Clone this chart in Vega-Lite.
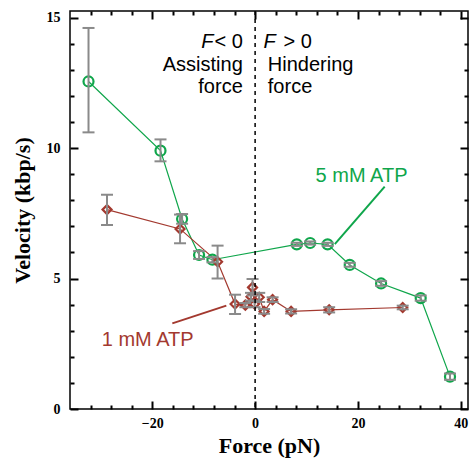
{
  "$schema": "https://vega.github.io/schema/vega-lite/v6.json",
  "width": 398,
  "height": 398,
  "autosize": {"type": "none"},
  "padding": {"left": 70, "top": 11, "right": 1, "bottom": 50},
  "background": "white",
  "config": {
    "view": {"stroke": "black", "strokeWidth": 1.5},
    "axis": {
      "domain": false, "grid": false, "ticks": true, "zindex": 1,
      "labelFont": "Liberation Serif", "labelFontWeight": "bold", "labelFontSize": 14, "labelColor": "black",
      "tickColor": "black", "tickWidth": 2, "tickOpacity": 1,
      "titleFont": "Liberation Serif", "titleFontWeight": "bold", "titleFontSize": 22, "titleColor": "black"
    }
  },
  "data": {"values": [
      {"series": "5 mM ATP", "force": -32.4, "vel": 12.55, "lo": 10.6, "hi": 14.6},
      {"series": "5 mM ATP", "force": -18.4, "vel": 9.9, "lo": 9.49, "hi": 10.33},
      {"series": "5 mM ATP", "force": -14.2, "vel": 7.28, "lo": 7.1, "hi": 7.47},
      {"series": "5 mM ATP", "force": -10.9, "vel": 5.9, "lo": 5.75, "hi": 6.05},
      {"series": "5 mM ATP", "force": -8.3, "vel": 5.72, "lo": 5.62, "hi": 5.82},
      {"series": "5 mM ATP", "force": 8.1, "vel": 6.31, "lo": 6.25, "hi": 6.37},
      {"series": "5 mM ATP", "force": 10.7, "vel": 6.36, "lo": 6.3, "hi": 6.42},
      {"series": "5 mM ATP", "force": 14.1, "vel": 6.31, "lo": 6.25, "hi": 6.37},
      {"series": "5 mM ATP", "force": 18.4, "vel": 5.52, "lo": 5.45, "hi": 5.6},
      {"series": "5 mM ATP", "force": 24.5, "vel": 4.81, "lo": 4.72, "hi": 4.9},
      {"series": "5 mM ATP", "force": 32.2, "vel": 4.25, "lo": 4.15, "hi": 4.35},
      {"series": "5 mM ATP", "force": 37.9, "vel": 1.24, "lo": 1.12, "hi": 1.36},
      {"series": "1 mM ATP", "force": -28.8, "vel": 7.64, "lo": 7.05, "hi": 8.21},
      {"series": "1 mM ATP", "force": -14.6, "vel": 6.9, "lo": 6.35, "hi": 7.45},
      {"series": "1 mM ATP", "force": -7.3, "vel": 5.64, "lo": 5.0, "hi": 6.26},
      {"series": "1 mM ATP", "force": -3.9, "vel": 4.02, "lo": 3.64, "hi": 4.38},
      {"series": "1 mM ATP", "force": -1.9, "vel": 3.98, "lo": 3.9, "hi": 4.06},
      {"series": "1 mM ATP", "force": -0.8, "vel": 4.3, "lo": 4.15, "hi": 4.45},
      {"series": "1 mM ATP", "force": -0.5, "vel": 4.66, "lo": 4.35, "hi": 4.98},
      {"series": "1 mM ATP", "force": -0.1, "vel": 4.02, "lo": 3.9, "hi": 4.15},
      {"series": "1 mM ATP", "force": 0.8, "vel": 4.28, "lo": 4.1, "hi": 4.45},
      {"series": "1 mM ATP", "force": 1.75, "vel": 3.74, "lo": 3.65, "hi": 3.83},
      {"series": "1 mM ATP", "force": 3.4, "vel": 4.19, "lo": 4.1, "hi": 4.28},
      {"series": "1 mM ATP", "force": 7.0, "vel": 3.74, "lo": 3.66, "hi": 3.82},
      {"series": "1 mM ATP", "force": 14.4, "vel": 3.8, "lo": 3.7, "hi": 3.9},
      {"series": "1 mM ATP", "force": 28.7, "vel": 3.89, "lo": 3.82, "hi": 3.96}
  ]},
  "layer": [
    {
      "mark": {"type": "line", "strokeWidth": 1.2},
      "encoding": {
        "x": {"field": "force", "type": "quantitative",
          "scale": {"domain": [-36, 41.4], "nice": false, "zero": false},
          "axis": {"orient": "bottom", "values": [-20, 0, 20, 40], "offset": -8, "tickSize": 8, "labelPadding": 7,
            "title": "Force (pN)", "titlePadding": 5}},
        "y": {"field": "vel", "type": "quantitative",
          "scale": {"domain": [0, 15.25], "nice": false, "zero": false},
          "axis": {"orient": "left", "values": [0, 5, 10, 15], "offset": -8, "tickSize": 8, "labelPadding": 10,
            "title": "Velocity (kbp/s)", "titlePadding": 12}},
        "color": {"field": "series", "type": "nominal", "legend": null,
          "scale": {"domain": ["5 mM ATP", "1 mM ATP"], "range": ["#0fa64b", "#a3392f"]}},
        "order": {"field": "force", "type": "quantitative"}
      }
    },
    {
      "transform": [{"filter": "datum.series === '5 mM ATP'"}],
      "mark": {"type": "point", "shape": "circle", "filled": false, "strokeWidth": 2.2, "size": 100, "opacity": 1},
      "encoding": {
        "x": {"field": "force", "type": "quantitative", "scale": {"domain": [-36, 41.4], "nice": false, "zero": false},
          "axis": {"orient": "bottom", "values": [-32,-28,-24,-16,-12,-8,-4,4,8,12,16,24,28,32,36], "labels": false, "title": null, "offset": -4, "tickSize": 4}},
        "y": {"field": "vel", "type": "quantitative", "scale": {"domain": [0, 15.25], "nice": false, "zero": false},
          "axis": {"orient": "left", "values": [1,2,3,4,6,7,8,9,11,12,13,14], "labels": false, "title": null, "offset": -4, "tickSize": 4}},
        "color": {"field": "series", "type": "nominal", "legend": null}
      }
    },
    {
      "transform": [{"filter": "datum.series === '1 mM ATP'"}],
      "mark": {"type": "point", "shape": "diamond", "filled": false, "strokeWidth": 2.2, "size": 80, "opacity": 1},
      "encoding": {
        "x": {"field": "force", "type": "quantitative", "scale": {"domain": [-36, 41.4], "nice": false, "zero": false},
          "axis": {"orient": "top", "values": [-32,-28,-24,-16,-12,-8,-4,4,8,12,16,24,28,32,36], "labels": false, "title": null, "offset": -4, "tickSize": 4}},
        "y": {"field": "vel", "type": "quantitative", "scale": {"domain": [0, 15.25], "nice": false, "zero": false},
          "axis": {"orient": "right", "values": [1,2,3,4,6,7,8,9,11,12,13,14], "labels": false, "title": null, "offset": -4, "tickSize": 4}},
        "color": {"field": "series", "type": "nominal", "legend": null}
      }
    },
    {
      "mark": {"type": "rule", "color": "#8a8a8a", "strokeWidth": 2},
      "encoding": {
        "x": {"field": "force", "type": "quantitative", "scale": {"domain": [-36, 41.4], "nice": false, "zero": false},
          "axis": {"orient": "top", "values": [-20, 0, 20, 40], "labels": false, "title": null, "offset": -8, "tickSize": 8}},
        "y": {"field": "lo", "type": "quantitative", "scale": {"domain": [0, 15.25], "nice": false, "zero": false},
          "axis": {"orient": "right", "values": [0, 5, 10, 15], "labels": false, "title": null, "offset": -8, "tickSize": 8}},
        "y2": {"field": "hi"}
      }
    },
    {
      "mark": {"type": "point", "shape": "stroke", "filled": false, "color": "#8a8a8a", "strokeWidth": 2, "size": 144, "opacity": 1},
      "encoding": {
        "x": {"field": "force", "type": "quantitative", "scale": {"domain": [-36, 41.4], "nice": false, "zero": false}, "axis": null},
        "y": {"field": "lo", "type": "quantitative", "scale": {"domain": [0, 15.25], "nice": false, "zero": false}, "axis": null}
      }
    },
    {
      "mark": {"type": "point", "shape": "stroke", "filled": false, "color": "#8a8a8a", "strokeWidth": 2, "size": 144, "opacity": 1},
      "encoding": {
        "x": {"field": "force", "type": "quantitative", "scale": {"domain": [-36, 41.4], "nice": false, "zero": false}, "axis": null},
        "y": {"field": "hi", "type": "quantitative", "scale": {"domain": [0, 15.25], "nice": false, "zero": false}, "axis": null}
      }
    },
    {
      "data": {"values": [{"zero": 0}]},
      "mark": {"type": "rule", "color": "black", "strokeWidth": 1.5, "strokeDash": [4, 4]},
      "encoding": {
        "x": {"field": "zero", "type": "quantitative", "scale": {"domain": [-36, 41.4], "nice": false, "zero": false}, "axis": null}
      }
    },
    {
      "data": {"values": [
        {"series": "5 mM ATP", "x1": 15.5, "y1": 6.32, "x2": 25.2, "y2": 8.52},
        {"series": "1 mM ATP", "x1": -16.1, "y1": 3.28, "x2": -5.6, "y2": 3.96}
      ]},
      "mark": {"type": "rule", "strokeWidth": 2},
      "encoding": {
        "x": {"field": "x1", "type": "quantitative", "scale": {"domain": [-36, 41.4], "nice": false, "zero": false}, "axis": null},
        "y": {"field": "y1", "type": "quantitative", "scale": {"domain": [0, 15.25], "nice": false, "zero": false}, "axis": null},
        "x2": {"field": "x2"},
        "y2": {"field": "y2"},
        "color": {"field": "series", "type": "nominal", "legend": null}
      }
    },
    {
      "data": {"values": [
        {"series": "5 mM ATP", "x": 20.7, "y": 8.68, "text": "5 mM ATP"},
        {"series": "1 mM ATP", "x": -20.9, "y": 2.43, "text": "1 mM ATP"}
      ]},
      "mark": {"type": "text", "font": "Liberation Sans", "fontSize": 20, "align": "center", "baseline": "alphabetic"},
      "encoding": {
        "x": {"field": "x", "type": "quantitative", "scale": {"domain": [-36, 41.4], "nice": false, "zero": false}, "axis": null},
        "y": {"field": "y", "type": "quantitative", "scale": {"domain": [0, 15.25], "nice": false, "zero": false}, "axis": null},
        "text": {"field": "text"},
        "color": {"field": "series", "type": "nominal", "legend": null}
      }
    },
    {
      "data": {"values": [
        {"x": -2.4, "y": 13.82, "text": "< 0"},
        {"x": -2.4, "y": 12.94, "text": "Assisting"},
        {"x": -2.4, "y": 12.09, "text": "force"}
      ]},
      "mark": {"type": "text", "font": "Liberation Sans", "fontSize": 20, "align": "right", "baseline": "alphabetic", "color": "black"},
      "encoding": {
        "x": {"field": "x", "type": "quantitative", "scale": {"domain": [-36, 41.4], "nice": false, "zero": false}, "axis": null},
        "y": {"field": "y", "type": "quantitative", "scale": {"domain": [0, 15.25], "nice": false, "zero": false}, "axis": null},
        "text": {"field": "text"}
      }
    },
    {
      "data": {"values": [
        {"x": 5.5, "y": 13.82, "text": "> 0"},
        {"x": 2.47, "y": 12.94, "text": "Hindering"},
        {"x": 2.47, "y": 12.09, "text": "force"}
      ]},
      "mark": {"type": "text", "font": "Liberation Sans", "fontSize": 20, "align": "left", "baseline": "alphabetic", "color": "black"},
      "encoding": {
        "x": {"field": "x", "type": "quantitative", "scale": {"domain": [-36, 41.4], "nice": false, "zero": false}, "axis": null},
        "y": {"field": "y", "type": "quantitative", "scale": {"domain": [0, 15.25], "nice": false, "zero": false}, "axis": null},
        "text": {"field": "text"}
      }
    },
    {
      "data": {"values": [
        {"x": -9.3, "y": 13.82, "text": "F", "align": "right"},
        {"x": 2.8, "y": 13.82, "text": "F", "align": "left"}
      ]},
      "mark": {"type": "text", "font": "Liberation Sans", "fontSize": 20, "fontStyle": "italic", "baseline": "alphabetic", "color": "black"},
      "encoding": {
        "x": {"field": "x", "type": "quantitative", "scale": {"domain": [-36, 41.4], "nice": false, "zero": false}, "axis": null},
        "y": {"field": "y", "type": "quantitative", "scale": {"domain": [0, 15.25], "nice": false, "zero": false}, "axis": null},
        "text": {"field": "text"},
        "align": {"field": "align", "type": "nominal", "scale": null}
      }
    }
  ],
  "resolve": {"axis": {"x": "independent", "y": "independent"}}
}
